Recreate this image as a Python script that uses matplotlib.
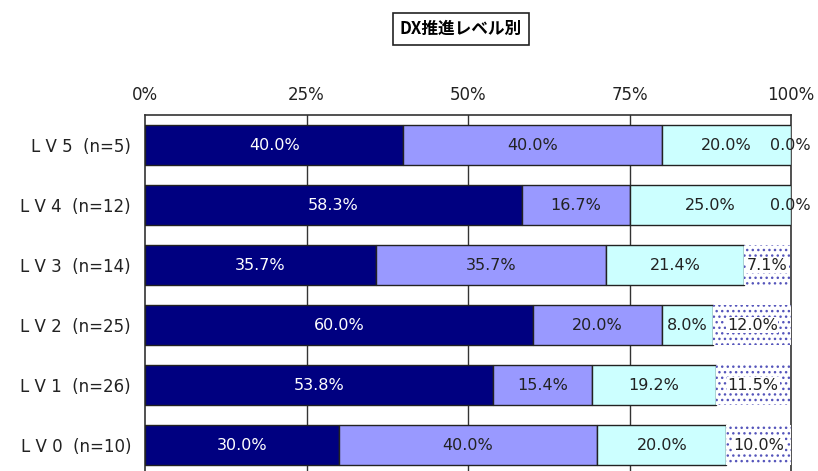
import matplotlib
matplotlib.use("Agg")
import matplotlib.pyplot as plt
import numpy as np

plt.rcParams['font.family'] = ['DejaVu Sans', 'Noto Sans CJK JP']
plt.rcParams['hatch.linewidth'] = 1.0

title = "DX推進レベル別"
categories = ["L V 5  (n=5)", "L V 4  (n=12)", "L V 3  (n=14)",
              "L V 2  (n=25)", "L V 1  (n=26)", "L V 0  (n=10)"]
s1 = [40.0, 58.3, 35.7, 60.0, 53.8, 30.0]
s2 = [40.0, 16.7, 35.7, 20.0, 15.4, 40.0]
s3 = [20.0, 25.0, 21.4, 8.0, 19.2, 20.0]
s4 = [0.0, 0.0, 7.1, 12.0, 11.5, 10.0]
xticks = [0, 25, 50, 75, 100]
xtick_labels = ["0%", "25%", "50%", "75%", "100%"]

W, H = 818, 471
fig = plt.figure(figsize=(W/100, H/100), dpi=100)
ax = fig.add_axes([145/W, (H-475)/H, (791-145)/W, 360/H])

y = np.arange(len(categories))
bh = 0.667
fs = 11.5
series = [s1, s2, s3]
colors = ["#000080", "#9999FF", "#CCFFFF"]
txtc = ["white", "#222222", "#222222"]
left = np.zeros(len(categories))
for vals, c, tc in zip(series, colors, txtc):
    vals = np.array(vals)
    ax.barh(y, vals, left=left, height=bh, color=c, edgecolor="#222222", linewidth=1, zorder=3)
    for yi, v, l in zip(y, vals, left):
        ax.text(l + v/2, yi, f"{v:.1f}%", ha="center", va="center", color=tc, fontsize=fs, zorder=5)
    left = left + vals
v4 = np.array(s4)
ax.barh(y, v4, left=left, height=bh, color="white", edgecolor="#5555BB", hatch="...", linewidth=0, zorder=3)
for yi, v, l in zip(y, v4, left):
    ax.text(min(l + v/2, 99.9), yi, f"{v:.1f}%", ha="center", va="center", color="#222222", fontsize=fs, zorder=5,
            bbox=dict(boxstyle="square,pad=0.05", facecolor="white", edgecolor="none") if v > 0 else None)

ax.set_xlim(0, 100)
ax.set_ylim(len(categories) - 0.5, -0.5)
ax.set_yticks(y)
ax.set_yticklabels(categories, fontsize=12, color="#222222")
ax.xaxis.tick_top()
ax.set_xticks(xticks)
ax.set_xticklabels(xtick_labels, fontsize=12, color="#222222")
ax.tick_params(axis='both', length=0)
ax.tick_params(axis='x', pad=8)
ax.tick_params(axis='y', pad=10)
for xv in [25, 50, 75]:
    ax.axvline(xv, color="#333333", linewidth=1, zorder=1)
for s in ["left", "right", "top"]:
    ax.spines[s].set_color("#333333")
    ax.spines[s].set_linewidth(1.2)
ax.spines["bottom"].set_visible(False)

fig.text(461/W, 1 - 29/H, title, ha="center", va="center", fontsize=12, fontweight="bold",
         family=['Noto Sans CJK JP'],
         bbox=dict(boxstyle="square,pad=0.4", facecolor="white", edgecolor="#222222", linewidth=1.2))

fig.savefig("out.png", dpi=100)
